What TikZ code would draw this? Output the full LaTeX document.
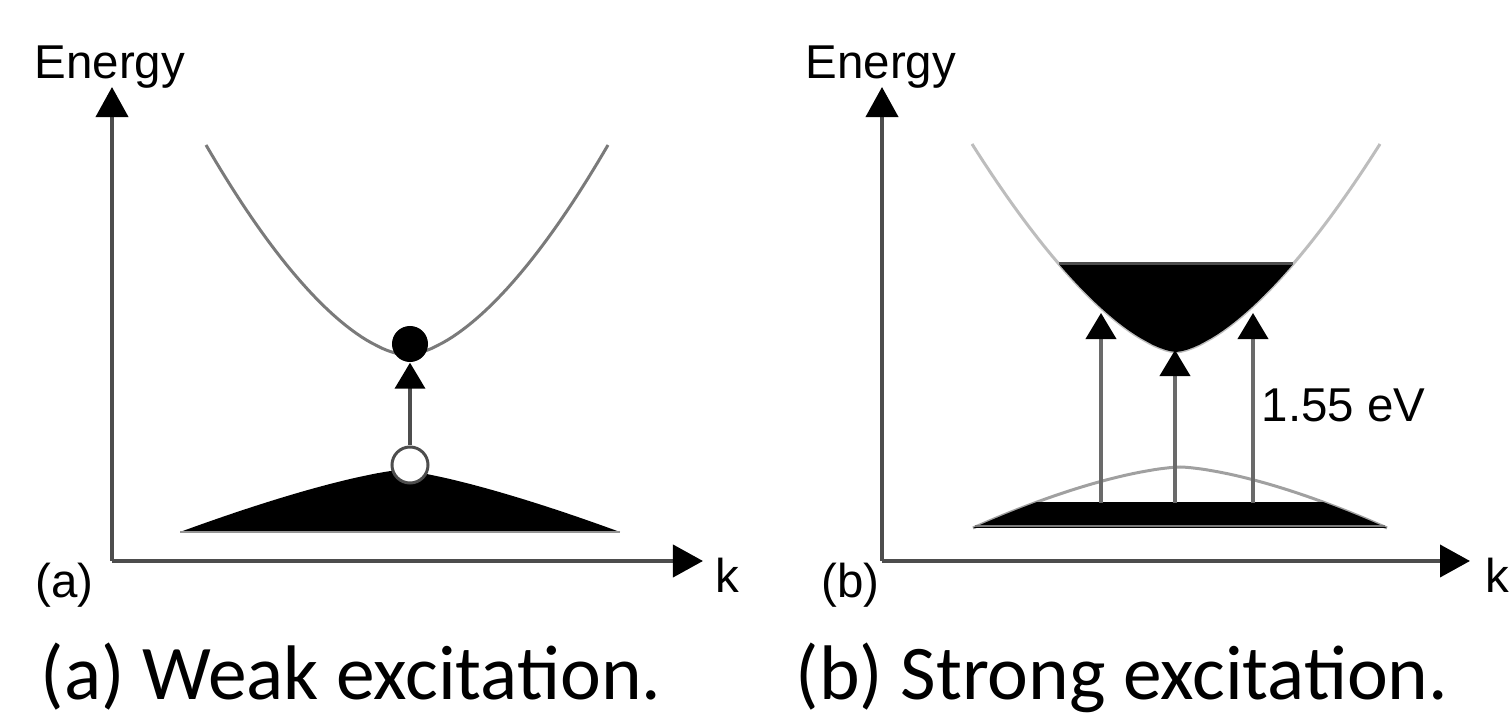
\documentclass[tikz,border=0pt]{standalone}
\usepackage{fontspec}
\setmainfont{Carlito}
\newfontfamily\panelfont{Liberation Sans}
\usetikzlibrary{arrows.meta}
\definecolor{axisgray}{HTML}{4D4D4D}
\definecolor{bandgray}{HTML}{7A7A7A}
\definecolor{palegray}{HTML}{BDBDBD}
\definecolor{archgray}{HTML}{A0A0A0}
\definecolor{pumpgray}{HTML}{6A6A6A}

\begin{document}
\begin{tikzpicture}[x=0.01cm, y=-0.01cm,
  axis/.style={axisgray, line width=1.1pt, -{Triangle[length=0.3cm, width=0.32cm, black]}},
  band/.style={line width=0.85pt},
  pump/.style={pumpgray, line width=1.1pt, -{Triangle[length=0.26cm, width=0.3cm, black]}},
  lbl/.style={font=\panelfont\fontsize{13.5}{16}\selectfont, inner sep=0pt},
  caption/.style={font=\fontsize{22}{26}\selectfont, inner sep=0pt},
  carrier/.style={circle, minimum size=0.36cm, inner sep=0pt}
]
  \useasboundingbox (0,0) rectangle (1509,719);

  % (a) axes
  \coordinate (oA) at (112,561);
  \coordinate (yA) at (112,87);
  \coordinate (xA) at (703,561);
  \draw[axis] (oA) -- (yA);
  \draw[axis] (oA) -- (xA);
  \node[lbl, anchor=base west] (energyA) at (34,79) {Energy};
  \node[lbl, anchor=base west] (kA) at (715,593) {k};
  \node[lbl, anchor=base west] (tagA) at (35,598) {(a)};

  % (a) bands
  \draw[band, bandgray] plot[domain=-201:201, samples=81]
    ({407+\x}, {355-210*pow(abs(\x)/201,1.65)});
  \fill[black] plot[domain=-220:220, samples=81]
    ({400+\x}, {470+62*pow(abs(\x)/220,1.3)}) -- cycle;
  \draw[band, axisgray!60] (180,532) -- (620,532);

  % (a) electron and hole
  \node[carrier, fill=black] (elecA) at (410,344) {};
  \node[carrier, fill=white, draw=axisgray, line width=0.85pt] (holeA) at (410,465) {};
  \draw[pump, axisgray] (holeA) -- (elecA);

  % (b) axes
  \coordinate (oB) at (882,561);
  \coordinate (yB) at (882,87);
  \coordinate (xB) at (1470,561);
  \draw[axis] (oB) -- (yB);
  \draw[axis] (oB) -- (xB);
  \node[lbl, anchor=base west] (energyB) at (805,79) {Energy};
  \node[lbl, anchor=base west] (kB) at (1485,593) {k};
  \node[lbl, anchor=base west] (tagB) at (821,598) {(b)};

  % (b) bands
  \draw[band, palegray] plot[domain=-204:204, samples=81]
    ({1176+\x}, {352-208*pow(abs(\x)/204,1.55)});
  \fill[black] plot[domain=-117:117, samples=41]
    ({1176+\x}, {352-208*pow(abs(\x)/204,1.55)}) -- cycle;
  \draw[band, axisgray] (1059,264) -- (1293,264);
  \draw[band, archgray] plot[domain=-207:207, samples=81]
    ({1180+\x}, {467+61*pow(abs(\x)/207,1.5)});
  \begin{scope}
    \clip (900,503) rectangle (1450,540);
    \fill[black] plot[domain=-207:207, samples=81]
      ({1180+\x}, {467+61*pow(abs(\x)/207,1.5)}) -- cycle;
  \end{scope}
  \draw[band, bandgray] (975,526) -- (1385,526);

  % (b) excitation
  \foreach \k/\top in {1101/313, 1175/350, 1253/313} {
    \coordinate (vb\k) at (\k,503);
    \coordinate (cb\k) at (\k,\top);
    \draw[pump] (vb\k) -- (cb\k);
  }
  \node[lbl, anchor=base west] (gap) at (1261,422) {1.55 eV};

  % Captions
  \node[caption, anchor=base] (capA) at (351,700) {(a) Weak excitation.};
  \node[caption, anchor=base] (capB) at (1122,700) {(b) Strong excitation.};
\end{tikzpicture}
\end{document}
